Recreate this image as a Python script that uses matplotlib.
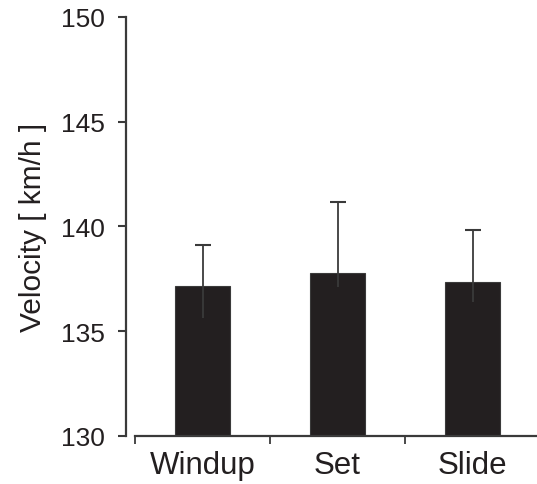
import matplotlib
matplotlib.use('Agg')
import matplotlib.pyplot as plt
import numpy as np

# ==========================================
# DATA
# ==========================================
categories = ['Windup', 'Set', 'Slide']
velocity = [137.15, 137.8, 137.37]
err_upper = [1.95, 3.35, 2.45]
err_lower = [1.5, 0.68, 0.96]

plt.rcParams['font.family'] = ['Liberation Sans', 'DejaVu Sans']

fig = plt.figure(figsize=(5.37, 4.85), dpi=100)
ax = fig.add_axes([126 / 537, 1 - 437 / 485, 411 / 537, 419 / 485])

x = np.arange(len(categories))
ink = '#231f20'
line_col = '#3a3a3a'
ax.bar(x, velocity, width=0.41, bottom=0, color=ink, edgecolor=line_col, linewidth=0.8, zorder=2)

vals = np.array(velocity)
ax.vlines(x, vals - np.array(err_lower), vals + np.array(err_upper), color=line_col, linewidth=1.3, zorder=3)
ax.plot(x, vals + np.array(err_upper), linestyle='none', marker='_', markersize=12,
        markeredgewidth=1.5, color=line_col, zorder=3)

ax.set_ylim(130, 150)
ax.set_yticks([130, 135, 140, 145, 150])
ax.set_xlim(-0.5 - 9 / 135, -0.5 + 402 / 135)

ax.set_xticks(x)
ax.set_xticklabels(categories)
ax.set_xticks([-0.5, 0.5, 1.5], minor=True)
ax.tick_params(axis='x', which='major', length=0, pad=10, labelsize=22.5, labelcolor=ink)
ax.tick_params(axis='x', which='minor', length=6, width=1.3, direction='out', color=line_col)
ax.tick_params(axis='y', length=6, width=1.5, direction='out', pad=9, labelsize=19,
               labelcolor=ink, color=line_col)

for side in ['top', 'right']:
    ax.spines[side].set_visible(False)
ax.spines['left'].set_linewidth(1.6)
ax.spines['left'].set_color(line_col)
ax.spines['bottom'].set_linewidth(1.6)
ax.spines['bottom'].set_color(line_col)
ax.spines['bottom'].set_bounds(-0.5, ax.get_xlim()[1])

ax.set_ylabel('Velocity [ km/h ]', fontsize=21.5, color=ink, labelpad=10)

fig.savefig('out.png', dpi=100)
